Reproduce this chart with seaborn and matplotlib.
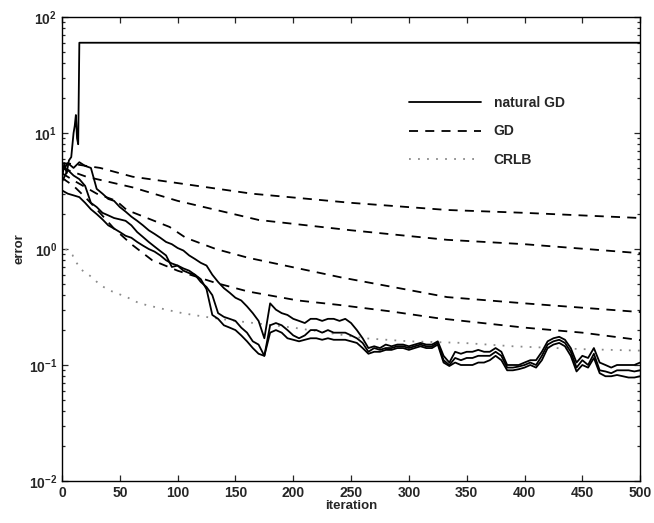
import numpy as np
import pandas as pd
import seaborn as sns
import matplotlib.pyplot as plt
from matplotlib.lines import Line2D

# iteration grid shared by the noisy natural GD runs
it_nat = list(range(0, 501, 5))

nat_a = [4.6, 5.5, 5.0, 5.6, 5.2, 5.0, 3.3, 3.0, 2.7, 2.6,
         2.3, 2.1, 1.9, 1.75, 1.6, 1.45, 1.35, 1.25, 1.15, 1.1,
         1.02, 0.97, 0.88, 0.82, 0.76, 0.72, 0.6, 0.52, 0.46, 0.42,
         0.38, 0.36, 0.32, 0.28, 0.24, 0.17, 0.34, 0.3, 0.28, 0.27,
         0.25, 0.24, 0.23, 0.25, 0.25, 0.24, 0.25, 0.25, 0.24, 0.25,
         0.23, 0.2, 0.17, 0.14, 0.145, 0.14, 0.15, 0.145, 0.15, 0.15,
         0.145, 0.15, 0.155, 0.15, 0.15, 0.16, 0.12, 0.105, 0.13, 0.125,
         0.13, 0.13, 0.135, 0.13, 0.13, 0.14, 0.13, 0.1, 0.1, 0.1,
         0.105, 0.11, 0.11, 0.13, 0.16, 0.17, 0.175, 0.165, 0.14, 0.105,
         0.12, 0.115, 0.14, 0.105, 0.1, 0.095, 0.1, 0.1, 0.1, 0.1,
         0.105]

nat_b = [3.8, 4.8, 4.3, 4.0, 3.5, 2.5, 2.3, 2.05, 1.95, 1.85,
         1.8, 1.75, 1.6, 1.4, 1.27, 1.15, 1.05, 0.96, 0.88, 0.7,
         0.72, 0.65, 0.62, 0.6, 0.52, 0.47, 0.4, 0.28, 0.26, 0.25,
         0.24, 0.21, 0.19, 0.16, 0.15, 0.12, 0.22, 0.23, 0.22, 0.2,
         0.18, 0.17, 0.18, 0.2, 0.2, 0.19, 0.2, 0.19, 0.19, 0.19,
         0.18, 0.17, 0.155, 0.13, 0.14, 0.135, 0.14, 0.14, 0.145, 0.145,
         0.14, 0.145, 0.15, 0.145, 0.145, 0.155, 0.11, 0.1, 0.115, 0.11,
         0.115, 0.115, 0.12, 0.12, 0.12, 0.13, 0.12, 0.095, 0.095, 0.097,
         0.1, 0.105, 0.1, 0.12, 0.15, 0.16, 0.165, 0.155, 0.13, 0.095,
         0.11, 0.1, 0.125, 0.09, 0.088, 0.085, 0.09, 0.09, 0.09, 0.088,
         0.09]

nat_c = [3.2, 3.0, 2.9, 2.8, 2.5, 2.2, 2.0, 1.8, 1.6, 1.5,
         1.4, 1.3, 1.25, 1.15, 1.07, 1.0, 0.95, 0.88, 0.8, 0.75,
         0.72, 0.68, 0.65, 0.6, 0.55, 0.45, 0.27, 0.25, 0.22, 0.21,
         0.2, 0.18, 0.16, 0.14, 0.125, 0.12, 0.19, 0.2, 0.19, 0.17,
         0.165, 0.16, 0.165, 0.17, 0.17, 0.165, 0.17, 0.165, 0.165, 0.165,
         0.16, 0.155, 0.14, 0.125, 0.13, 0.13, 0.135, 0.135, 0.14, 0.14,
         0.135, 0.14, 0.145, 0.14, 0.14, 0.15, 0.105, 0.098, 0.105, 0.1,
         0.1, 0.1, 0.105, 0.105, 0.11, 0.12, 0.11, 0.09, 0.09, 0.092,
         0.095, 0.1, 0.095, 0.11, 0.14, 0.15, 0.155, 0.145, 0.12, 0.088,
         0.1, 0.095, 0.115, 0.085, 0.08, 0.08, 0.082, 0.08, 0.078, 0.078,
         0.08]

# diverging natural GD run
it_div = [0, 2, 4, 6, 8, 10, 11, 12, 13, 14, 15, 500]
nat_div = [4.0, 5.5, 4.5, 5.8, 6.2, 10.0, 11.5, 14.3, 9.0, 8.0, 60.0, 60.0]

# plain GD runs
it_gd1 = [0, 10, 33, 61, 100, 164, 250, 333, 400, 500]
gd1 = [5.5, 5.4, 5.0, 4.2, 3.7, 3.0, 2.5, 2.17, 2.05, 1.85]
it_gd2 = [0, 10, 21, 61, 100, 170, 250, 333, 400, 500]
gd2 = [5.0, 4.6, 4.2, 3.4, 2.6, 1.78, 1.45, 1.2, 1.1, 0.92]
it_gd3 = [0, 10, 30, 47, 56, 93, 107, 133, 161, 241, 333, 400, 500]
gd3 = [4.5, 3.9, 3.0, 2.6, 2.17, 1.55, 1.25, 1.0, 0.84, 0.57, 0.385, 0.34, 0.286]
it_gd4 = [0, 10, 20, 30, 45, 60, 78, 100, 133, 161, 204, 239, 284, 324, 400, 450, 500]
gd4 = [4.1, 3.5, 2.8, 2.2, 1.5, 1.1, 0.8, 0.65, 0.51, 0.43, 0.36, 0.33, 0.29, 0.254, 0.21, 0.19, 0.164]

# Cramer-Rao lower bound
it_crlb = [3, 9, 11, 17, 25, 33, 41, 56, 67, 90, 104, 124, 150, 200, 262, 300, 347, 390, 450, 500]
crlb = [1.0, 0.89, 0.8, 0.66, 0.58, 0.49, 0.44, 0.385, 0.34, 0.3, 0.28, 0.26, 0.24, 0.21, 0.17,
        0.16, 0.155, 0.145, 0.137, 0.133]

sns.set_theme(style="ticks")
plt.rcParams['font.family'] = ['Liberation Sans', 'DejaVu Sans']
plt.rcParams['mathtext.default'] = 'regular'
plt.rcParams['xtick.direction'] = 'in'
plt.rcParams['ytick.direction'] = 'in'

fig = plt.figure(figsize=(6.54, 5.23), dpi=100)
ax = fig.add_axes([0.0948, 0.0803, 0.884, 0.8872])

# CRLB first so the other curves sit on top
sns.lineplot(x=it_crlb, y=crlb, ax=ax, color='#8a8a8a', lw=1.3,
             linestyle=(0, (1, 4)), estimator=None, sort=False)

for xs, ys in [(it_gd1, gd1), (it_gd2, gd2), (it_gd3, gd3), (it_gd4, gd4)]:
    sns.lineplot(x=xs, y=ys, ax=ax, color='black', lw=1.3,
                 linestyle=(0, (5, 4)), estimator=None, sort=False)

for ys in [nat_a, nat_b, nat_c]:
    sns.lineplot(x=it_nat, y=ys, ax=ax, color='black', lw=1.3,
                 estimator=None, sort=False)
sns.lineplot(x=it_div, y=nat_div, ax=ax, color='black', lw=1.3,
             estimator=None, sort=False)

ax.set_yscale('log')
ax.set_xlim(0, 500)
ax.set_ylim(1e-2, 1e2)
ax.set_xticks(range(0, 501, 50))
ax.tick_params(which='both', top=True, right=True, width=0.9, labelsize=10)
ax.tick_params(which='major', length=4)
ax.tick_params(which='minor', length=2.5)
for lab in ax.get_xticklabels() + ax.get_yticklabels():
    lab.set_fontweight('bold')
for s in ax.spines.values():
    s.set_linewidth(1.0)
    s.set_color('black')

ax.set_xlabel('iteration', fontsize=9.5, fontweight='bold', labelpad=0)
ax.set_ylabel('error', fontsize=9.5, fontweight='bold', labelpad=2)

handles = [Line2D([], [], color='black', lw=1.3),
           Line2D([], [], color='black', lw=1.3, linestyle=(0, (5, 4))),
           Line2D([], [], color='#8a8a8a', lw=1.3, linestyle=(0, (1, 4)))]
ax.legend(handles, ['natural GD', 'GD', 'CRLB'], loc='upper left',
          bbox_to_anchor=(0.6, 0.83), frameon=False, handlelength=5.2,
          handletextpad=0.9, labelspacing=1.05, borderpad=0, borderaxespad=0,
          prop={'size': 10, 'weight': 'bold'})

fig.savefig('out.png', dpi=100)
